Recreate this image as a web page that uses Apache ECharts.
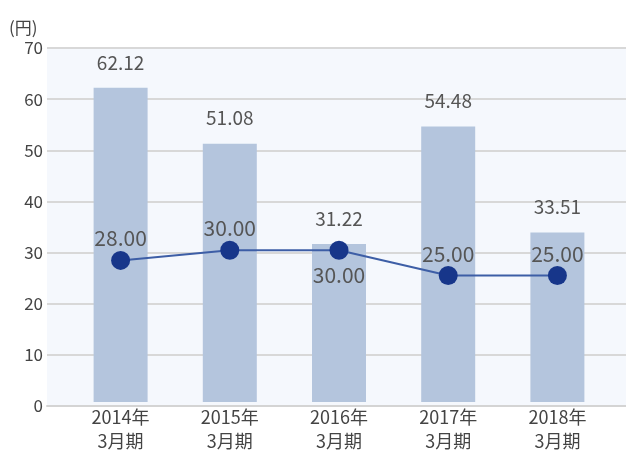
<!DOCTYPE html>
<html>
<head>
<meta charset="utf-8">
<script src="https://cdn.jsdelivr.net/npm/echarts@6/dist/echarts.min.js"></script>
<style>
  html, body { margin: 0; padding: 0; background: #fff; }
  #chart { width: 626px; height: 453px; }
</style>
</head>
<body>
<div id="chart"></div>
<script>
const categories = ['2014年\n3月期', '2015年\n3月期', '2016年\n3月期', '2017年\n3月期', '2018年\n3月期']
const epsValues = [62.12, 51.08, 31.22, 54.48, 33.51]
const dividendValues = [28.00, 30.00, 30.00, 25.00, 25.00]
const dividendLabelPos = ['top', 'top', 'bottom', 'top', 'top']

const font = '"Noto Sans CJK JP", "Noto Sans", sans-serif'

const chart = echarts.init(document.getElementById('chart'))

chart.setOption({
  animation: false,
  textStyle: { fontFamily: font },
  title: {
    text: '(円)',
    left: 4,
    top: 14,
    textStyle: { fontSize: 17, fontWeight: 'normal', color: '#444', fontFamily: font }
  },
  grid: [
    // data grid
    { left: 66, right: 14, top: 48, bottom: 47 },
    // background grid, a bit wider
    { left: 47, right: 0, top: 48, bottom: 47, show: true, backgroundColor: '#f5f8fd', borderWidth: 0 }
  ],
  xAxis: [
    {
      type: 'category',
      gridIndex: 0,
      data: categories,
      axisLine: { show: false },
      axisTick: { show: false },
      axisLabel: { color: '#444', fontSize: 18, lineHeight: 24, margin: 3, fontFamily: font }
    },
    {
      type: 'value',
      gridIndex: 1,
      min: 0,
      max: 1,
      axisLine: { show: true, lineStyle: { color: '#d4d4d4', width: 2 } },
      axisTick: { show: false },
      axisLabel: { show: false },
      splitLine: { show: false }
    }
  ],
  yAxis: [
    {
      type: 'value',
      gridIndex: 0,
      min: 0,
      max: 70,
      interval: 10,
      axisLine: { show: false },
      axisTick: { show: false },
      axisLabel: { show: false },
      splitLine: { show: false }
    },
    {
      type: 'value',
      gridIndex: 1,
      min: 0,
      max: 70,
      interval: 10,
      axisLine: { show: false },
      axisTick: { show: false },
      axisLabel: { color: '#444', fontSize: 17, margin: 4, fontFamily: font },
      splitLine: { lineStyle: { color: '#d8d8d8', width: 2 } }
    }
  ],
  series: [
    {
      type: 'bar',
      xAxisIndex: 0,
      yAxisIndex: 0,
      data: epsValues,
      barWidth: 54,
      itemStyle: { color: '#b4c5dd' },
      label: {
        show: true,
        position: 'top',
        distance: 16,
        color: '#555',
        fontSize: 19,
        fontFamily: font,
        formatter: p => p.value.toFixed(2)
      },
      z: 2
    },
    {
      type: 'line',
      xAxisIndex: 0,
      yAxisIndex: 0,
      data: dividendValues.map((v, i) => ({
        value: v,
        label: { position: dividendLabelPos[i], distance: dividendLabelPos[i] === 'bottom' ? 5 : 2 }
      })),
      symbol: 'circle',
      symbolSize: 19,
      lineStyle: { color: '#3d5ea6', width: 2 },
      itemStyle: { color: '#17368a' },
      label: {
        show: true,
        color: '#555',
        fontSize: 21,
        fontFamily: font,
        formatter: p => p.value.toFixed(2)
      },
      z: 3
    }
  ]
})
</script>
</body>
</html>
